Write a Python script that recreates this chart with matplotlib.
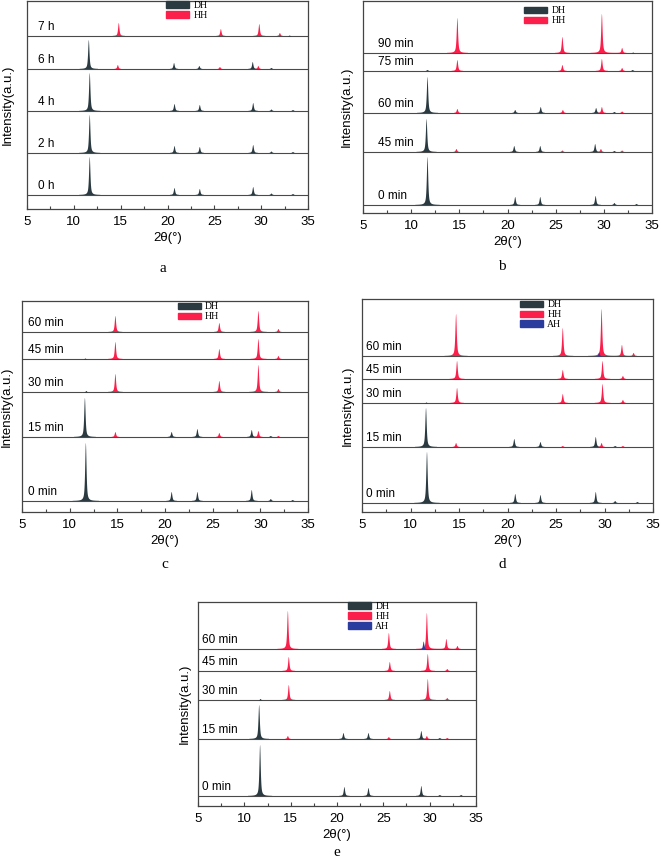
import numpy as np
import matplotlib.pyplot as plt
from matplotlib.patches import Patch
from matplotlib.ticker import MultipleLocator

plt.rcParams['font.family'] = ['Liberation Sans', 'DejaVu Sans']

W, H = 661, 860
DH_COLOR = '#2a3a40'
HH_COLOR = '#fb1f4b'
AH_COLOR = '#2a3c9e'

two_theta = np.linspace(5, 35, 3001)

# peak lists per trace, bottom trace first: (2theta, intensity)
a_labels = ['0 h', '2 h', '4 h', '6 h', '7 h']
a_dh = [
    [(11.7, 38), (20.75, 7), (23.45, 6), (29.15, 8), (31.1, 1.5), (33.4, 1)],
    [(11.7, 38), (20.75, 7), (23.45, 6), (29.15, 8), (31.1, 1.5), (33.4, 1)],
    [(11.7, 38), (20.75, 7), (23.45, 6), (29.15, 8), (31.1, 1.5), (33.4, 1)],
    [(11.6, 29), (20.7, 6), (23.4, 3), (29.1, 7), (31.1, 1)],
    [(33.0, 1)],
]
a_hh = [[], [], [],
        [(14.7, 4), (25.6, 2), (29.7, 3)],
        [(14.8, 13), (25.7, 7), (29.8, 12), (32.0, 3)]]

b_labels = ['0 min', '45 min', '60 min', '75 min', '90 min']
b_dh = [
    [(11.7, 48), (20.8, 8), (23.4, 8), (29.15, 9), (31.1, 2), (33.4, 1)],
    [(11.6, 33), (20.7, 6), (23.4, 6), (29.1, 8), (31.1, 1)],
    [(11.7, 36), (20.8, 3), (23.45, 6), (29.2, 5), (31.1, 1)],
    [(11.7, 1), (33.0, 1)],
    [(33.0, 1)],
]
b_hh = [
    [],
    [(14.7, 3), (25.7, 1.5), (29.7, 3), (31.9, 1.5)],
    [(14.8, 4), (25.75, 3), (29.8, 6), (31.9, 1.5)],
    [(14.8, 11), (25.7, 6), (29.8, 12), (31.9, 3)],
    [(14.8, 35), (25.7, 16), (29.8, 39), (31.9, 5)],
]

min_labels = ['0 min', '15 min', '30 min', '45 min', '60 min']
c_dh = [
    [(11.7, 58), (20.7, 9), (23.4, 9), (29.1, 11), (31.1, 2), (33.4, 1)],
    [(11.6, 39), (20.7, 5), (23.4, 8), (29.1, 7), (31.1, 1)],
    [(11.7, 1.5)],
    [(11.6, 1)],
    [],
]
c_hh = [
    [],
    [(14.8, 5), (25.7, 4), (29.8, 6), (31.9, 1)],
    [(14.8, 18), (25.7, 11), (29.8, 27), (31.9, 3)],
    [(14.8, 17), (25.7, 10), (29.8, 20), (31.9, 3)],
    [(14.8, 16), (25.7, 9), (29.8, 21), (31.9, 3)],
]

d_dh = [
    [(11.7, 51), (20.8, 9), (23.4, 8), (29.1, 11), (31.1, 2), (33.4, 1)],
    [(11.6, 39), (20.7, 8), (23.4, 5), (29.1, 10), (31.1, 1)],
    [(11.6, 1)], [], [],
]
d_hh = [
    [],
    [(14.7, 4), (25.7, 1), (29.7, 4), (31.9, 1)],
    [(14.8, 15), (25.7, 9), (29.8, 19), (31.9, 3)],
    [(14.8, 18), (25.7, 9), (29.8, 18), (31.9, 3)],
    [(14.7, 42), (25.7, 28), (29.7, 47), (31.8, 11), (33.0, 3)],
]
d_ah = [[], [], [], [], [(29.4, 4)]]

e_dh = [
    [(11.7, 51), (20.8, 9), (23.4, 8), (29.1, 10), (31.1, 1), (33.4, 1)],
    [(11.6, 34), (20.7, 6), (23.4, 6), (29.1, 8), (31.1, 1)],
    [(11.7, 1.5)], [], [],
]
e_hh = [
    [],
    [(14.7, 3), (25.6, 2), (29.7, 3), (31.9, 1)],
    [(14.8, 15), (25.7, 9), (29.8, 21), (31.9, 2)],
    [(14.8, 14), (25.7, 9), (29.8, 17), (31.9, 2)],
    [(14.7, 38), (25.6, 16), (29.7, 36), (31.8, 10), (33.0, 3)],
]
e_ah = [[], [], [], [], [(29.3, 8)]]


def pattern(peaks, fwhm=0.17, eta=0.7):
    y = np.zeros_like(two_theta)
    for pos, h in peaks:
        d = two_theta - pos
        g = np.exp(-4 * np.log(2) * d**2 / fwhm**2)
        l = 1 / (1 + 4 * d**2 / fwhm**2)
        y += h * (eta * l + (1 - eta) * g)
    return y


def panel(box, baselines, labels, phases, label_x, ylab_x, leg_anchor, letter):
    left, top, right, bottom = box
    ax = fig.add_axes([left / W, 1 - bottom / H, (right - left) / W, (bottom - top) / H])
    ax.set_xlim(5, 35)
    ax.set_ylim(0, bottom - top)
    for i, base_px in enumerate(baselines):
        off = bottom - base_px
        ax.axhline(off, color='#4a4a4a', lw=0.8, zorder=1)
        for peaks, color in phases:
            y = pattern(peaks[i])
            ax.fill_between(two_theta, off, off + y, where=y > 0.15,
                            color=color, lw=0, zorder=2)
        ax.text(label_x, off + 3, labels[i], fontsize=8.5, va='bottom', ha='left')
    for s in ax.spines.values():
        s.set_color('#444444')
        s.set_linewidth(0.9)
    ax.set_yticks([])
    ax.xaxis.set_major_locator(MultipleLocator(5))
    ax.xaxis.set_minor_locator(MultipleLocator(2.5))
    ax.tick_params(axis='x', which='major', direction='in', length=3, width=0.8,
                   labelsize=9.5, pad=5, color='#444444')
    ax.tick_params(axis='x', which='minor', direction='in', length=2, width=0.8,
                   color='#444444')
    ax.set_xlabel('2θ(°)', fontsize=9.5, labelpad=3)
    ax.set_ylabel('Intensity(a.u.)', fontsize=9.5)
    ax.yaxis.set_label_coords(ylab_x, 0.5)
    names = ['DH', 'HH', 'AH'][:len(phases)]
    handles = [Patch(color=c) for _, c in phases]
    ax.legend(handles, names, loc='upper left', bbox_to_anchor=leg_anchor,
              frameon=False, borderpad=0, borderaxespad=0, handlelength=2.4,
              handleheight=0.6, handletextpad=0.4, labelspacing=0.1,
              prop={'family': 'Liberation Serif', 'size': 7})
    fig.text(letter[0] / W, 1 - letter[1] / H, letter[2], fontsize=11,
             family='Liberation Serif', ha='center', va='center')
    return ax


fig = plt.figure(figsize=(W / 100, H / 100), dpi=100)

panel((27, 1, 308, 209), [195, 153, 111, 69, 36], a_labels,
      [(a_dh, DH_COLOR), (a_hh, HH_COLOR)], 6.2, -0.046, (0.495, 1.0), (163, 268, 'a'))
panel((363, 1, 652, 213), [205, 152, 113, 71, 53], b_labels,
      [(b_dh, DH_COLOR), (b_hh, HH_COLOR)], 6.6, -0.035, (0.557, 0.976), (502, 266, 'b'))
panel((22, 301, 308, 512), [501, 437, 392, 359, 332], min_labels,
      [(c_dh, DH_COLOR), (c_hh, HH_COLOR)], 5.6, -0.031, (0.545, 0.995), (165, 564, 'c'))
panel((362, 299, 653, 512), [503, 447, 403, 379, 356], min_labels,
      [(d_dh, DH_COLOR), (d_hh, HH_COLOR), (d_ah, AH_COLOR)], 5.4, -0.027,
      (0.543, 0.995), (502, 564, 'd'))
panel((198, 602, 476, 806), [796, 739, 700, 671, 649], min_labels,
      [(e_dh, DH_COLOR), (e_hh, HH_COLOR), (e_ah, AH_COLOR)], 5.4, -0.025,
      (0.54, 1.0), (337, 853, 'e'))

fig.savefig('out.png', dpi=100)
